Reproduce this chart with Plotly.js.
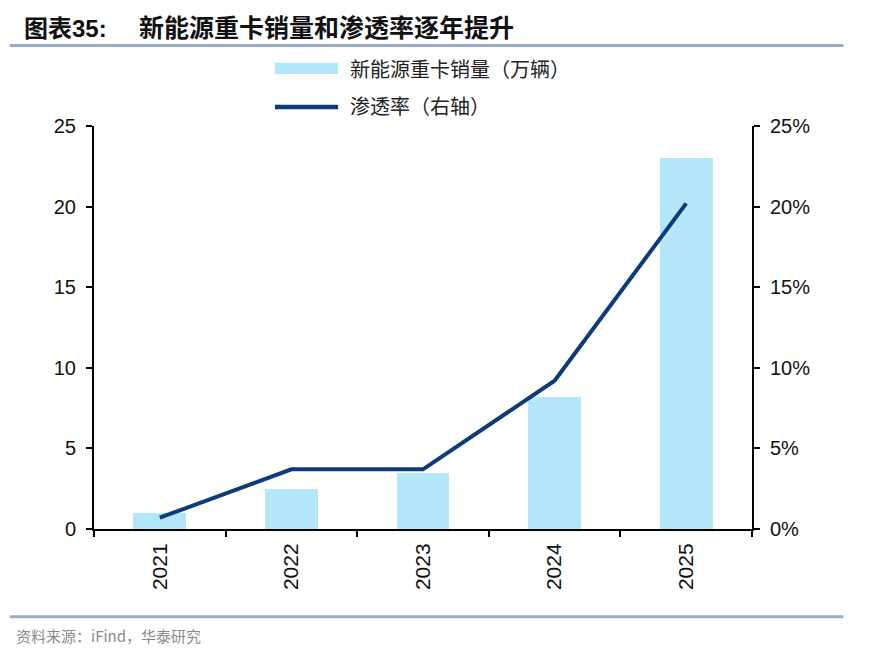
<!DOCTYPE html>
<html>
<head>
<meta charset="utf-8">
<script src="https://cdn.plot.ly/plotly-3.0.1.min.js"></script>
<style>
  html, body { margin: 0; padding: 0; background: #fff; }
  #chart { width: 870px; height: 657px; }
</style>
</head>
<body>
<div id="chart"></div>
<script>
// Years on the category axis
const years = ['2021', '2022', '2023', '2024', '2025'];
// New-energy heavy truck sales (10k units), left axis
const sales = [1.0, 2.5, 3.5, 8.2, 23.0];
// Penetration rate, right axis
const penetration = [0.007, 0.037, 0.037, 0.092, 0.202];

const salesName = '新能源重卡销量（万辆）';
const rateName = '渗透率（右轴）';

const cjk = '"Noto Sans CJK SC", "Noto Sans", sans-serif';
const latin = '"Liberation Sans", Arial, sans-serif';

const barColor = '#b3e6f8';
const lineColor = '#0b3b78';

const traces = [
  {
    type: 'bar',
    x: years,
    y: sales,
    name: salesName,
    marker: { color: barColor },
    width: 0.4,
    yaxis: 'y',
    showlegend: false,
    hoverinfo: 'x+y'
  },
  {
    type: 'scatter',
    mode: 'lines',
    x: years,
    y: penetration,
    name: rateName,
    line: { color: lineColor, width: 4 },
    yaxis: 'y2',
    showlegend: false
  }
];

const axisCommon = {
  showgrid: false,
  zeroline: false,
  showline: true,
  linecolor: '#000',
  linewidth: 2,
  ticks: 'outside',
  ticklen: 6,
  tickwidth: 2,
  tickcolor: '#000',
  tickfont: { family: latin, size: 20, color: '#111' }
};

const layout = {
  width: 870,
  height: 657,
  margin: { l: 94, r: 118, t: 126, b: 128 },
  paper_bgcolor: '#fff',
  plot_bgcolor: '#fff',
  bargap: 0,
  xaxis: Object.assign({}, axisCommon, {
    type: 'category',
    tickson: 'boundaries',
    tickangle: -90,
    ticklabelstandoff: 4,
    tickfont: { family: latin, size: 21, color: '#111' }
  }),
  yaxis: Object.assign({}, axisCommon, {
    range: [0, 25],
    tickvals: [0, 5, 10, 15, 20, 25],
    ticklabelstandoff: 6
  }),
  yaxis2: Object.assign({}, axisCommon, {
    overlaying: 'y',
    side: 'right',
    range: [0, 0.25],
    tickvals: [0, 0.05, 0.10, 0.15, 0.20, 0.25],
    tickformat: '.0%',
    ticklabelstandoff: 6
  }),
  shapes: [
    // rule under the heading
    { type: 'line', xref: 'paper', yref: 'paper',
      x0: -0.128, x1: 1.139, y0: 1.2, y1: 1.2,
      line: { color: '#97acc6', width: 3 } },
    // rule above the source note
    { type: 'line', xref: 'paper', yref: 'paper',
      x0: -0.128, x1: 1.139, y0: -0.218, y1: -0.218,
      line: { color: '#97acc6', width: 3 } },
    // legend swatches
    { type: 'rect', xref: 'paper', yref: 'paper',
      x0: 0.275, x1: 0.371, y0: 1.129, y1: 1.157,
      fillcolor: barColor, line: { width: 0 } },
    { type: 'line', xref: 'paper', yref: 'paper',
      x0: 0.275, x1: 0.371, y0: 1.047, y1: 1.047,
      line: { color: lineColor, width: 4.5 } }
  ],
  annotations: [
    { xref: 'paper', yref: 'paper', x: -0.11, y: 1.247,
      xanchor: 'left', yanchor: 'middle', showarrow: false,
      text: '<b>图表<span style="font-family:\'Liberation Sans\', Arial, sans-serif;font-size:24px">35:</span></b>',
      font: { family: cjk, size: 24, color: '#111' } },
    { xref: 'paper', yref: 'paper', x: 0.065, y: 1.247,
      xanchor: 'left', yanchor: 'middle', showarrow: false,
      text: '<b>新能源重卡销量和渗透率逐年提升</b>',
      font: { family: cjk, size: 25, color: '#111' } },
    { xref: 'paper', yref: 'paper', x: 0.386, y: 1.143,
      xanchor: 'left', yanchor: 'middle', showarrow: false,
      text: salesName,
      font: { family: cjk, size: 20, color: '#222' } },
    { xref: 'paper', yref: 'paper', x: 0.386, y: 1.05,
      xanchor: 'left', yanchor: 'middle', showarrow: false,
      text: rateName,
      font: { family: cjk, size: 20, color: '#222' } },
    { xref: 'paper', yref: 'paper', x: -0.122, y: -0.265,
      xanchor: 'left', yanchor: 'middle', showarrow: false,
      text: '资料来源：iFind，华泰研究',
      font: { family: cjk, size: 15, color: '#8a8a8a' } }
  ]
};

Plotly.newPlot('chart', traces, layout, { displayModeBar: false, staticPlot: true });
</script>
</body>
</html>
